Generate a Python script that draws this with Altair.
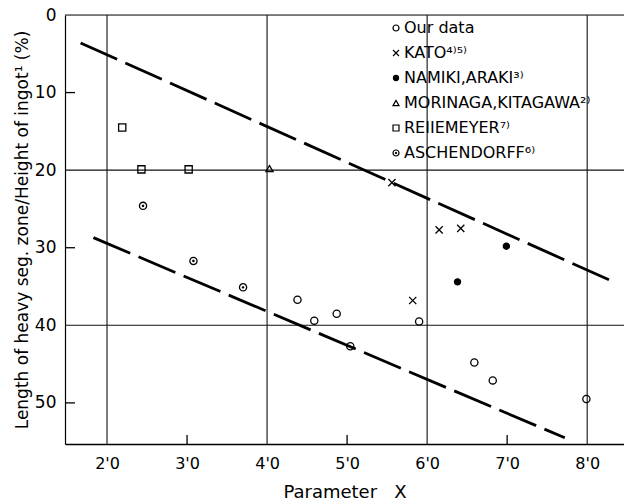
import altair as alt
import pandas as pd

# ---- data ----
sources = ["Our data", "KATO⁴⁾⁵⁾", "NAMIKI,ARAKI³⁾", "MORINAGA,KITAGAWA²⁾",
           "REIIEMEYER⁷⁾", "ASCHENDORFF⁶⁾"]

our_x = [4.38, 4.59, 4.87, 5.04, 5.90, 6.59, 6.82, 7.99]
our_y = [36.7, 39.4, 38.5, 42.7, 39.5, 44.8, 47.1, 49.5]
kato_x = [5.56, 6.15, 6.42, 5.82]
kato_y = [21.6, 27.7, 27.5, 36.8]
namiki_x = [6.99, 6.38]
namiki_y = [29.8, 34.4]
morinaga_x = [4.03]
morinaga_y = [19.8]
reii_x = [2.19, 2.43, 3.02]
reii_y = [14.5, 19.9, 19.9]
asch_x = [2.45, 3.08, 3.70]
asch_y = [24.6, 31.7, 35.1]

upper_x = [1.67, 8.33]
upper_y = [3.6, 34.4]
lower_x = [1.83, 7.72]
lower_y = [28.7, 54.5]

x_ticks = [2, 3, 4, 5, 6, 7, 8]
y_ticks = [0, 10, 20, 30, 40, 50]
x_grid = [2, 4, 6, 8]
y_grid = [0, 20, 40]
x_minor = [3, 5, 7]
y_minor = [10, 30, 50]

x_domain = [1.475, 8.46]
y_domain = [0, 55.3]

# ---- tables ----
rows = []
for name, xs_, ys_ in zip(sources,
                          [our_x, kato_x, namiki_x, morinaga_x, reii_x, asch_x],
                          [our_y, kato_y, namiki_y, morinaga_y, reii_y, asch_y]):
    for a, b in zip(xs_, ys_):
        rows.append({"x": a, "y": b, "src": name})
pts = pd.DataFrame(rows)

lines = pd.DataFrame(
    [{"x": a, "y": b, "line": "upper"} for a, b in zip(upper_x, upper_y)] +
    [{"x": a, "y": b, "line": "lower"} for a, b in zip(lower_x, lower_y)]
)

FONT = "DejaVu Sans"
W, H = 559, 429

xs = alt.Scale(domain=x_domain, nice=False, zero=False)
ys = alt.Scale(domain=y_domain, nice=False, zero=False, reverse=True)

shape_range = [
    "circle",
    "M-1,-1L1,1M-1,1L1,-1",
    "M0.85,0A0.85,0.85,0,1,1,-0.85,0A0.85,0.85,0,1,1,0.85,0Z",
    "triangle-up",
    "square",
    "M1,0A1,1,0,1,1,-1,0A1,1,0,1,1,1,0Z M0.18,0A0.18,0.18,0,1,1,-0.18,0A0.18,0.18,0,1,1,0.18,0Z",
]
fill_range = ["transparent", "transparent", "black", "transparent",
              "transparent", "transparent"]
stroke_range = ["black"] * 6

legend = alt.Legend(
    title=None, orient="none", legendX=323, legendY=5,
    labelFont=FONT, labelFontSize=16, labelColor="black", labelLimit=320,
    symbolSize=36, symbolStrokeWidth=1.2,
    rowPadding=9, labelOffset=0,
)

points = alt.Chart(pts).mark_point(strokeWidth=1.3, size=52,
                                   opacity=1).encode(
    x=alt.X("x:Q", scale=xs, axis=alt.Axis(
        values=x_ticks, grid=False, ticks=False, domain=True,
        domainColor="black", domainWidth=1.6,
        labelExpr="replace(format(datum.value, '.1f'), '.', \"'\")",
        labelFont=FONT, labelFontSize=16, labelColor="black", labelPadding=11,
        title="Parameter\u00a0\u00a0\u00a0X", titleFont=FONT, titleFontSize=18,
        titleFontWeight="normal", titleColor="black", titlePadding=12)),
    y=alt.Y("y:Q", scale=ys, axis=alt.Axis(
        values=y_ticks, grid=False, ticks=False, domain=True,
        domainColor="black", domainWidth=1.2,
        labelFont=FONT, labelFontSize=17, labelColor="black", labelPadding=9,
        title="Length of heavy seg. zone/Height of ingot¹ (%)",
        titleFont=FONT, titleFontSize=17, titleFontWeight="normal",
        titleColor="black", titlePadding=3)),
    shape=alt.Shape("src:N", scale=alt.Scale(domain=sources, range=shape_range),
                    legend=legend),
    fill=alt.Fill("src:N", scale=alt.Scale(domain=sources, range=fill_range),
                  legend=legend),
    stroke=alt.Stroke("src:N", scale=alt.Scale(domain=sources, range=stroke_range),
                      legend=legend),
)

trend = alt.Chart(lines).mark_line(color="black", strokeWidth=2.8,
                                   strokeDash=[40, 9]).encode(
    x=alt.X("x:Q", scale=xs), y=alt.Y("y:Q", scale=ys), detail="line:N")

vgrid = alt.Chart(pd.DataFrame({"x": x_grid})).mark_rule(
    color="#111", strokeWidth=1.1).encode(
    x=alt.X("x:Q", scale=xs), y=alt.value(0), y2=alt.value(H))

hgrid = alt.Chart(pd.DataFrame({"y": y_grid})).mark_rule(
    color="#111", strokeWidth=1.1).encode(
    y=alt.Y("y:Q", scale=ys), x=alt.value(0), x2=alt.value(W))

xminor = alt.Chart(pd.DataFrame({"x": x_minor})).mark_rule(
    color="black", strokeWidth=1.3).encode(
    x=alt.X("x:Q", scale=xs), y=alt.value(H - 9), y2=alt.value(H))

yminor = alt.Chart(pd.DataFrame({"y": y_minor})).mark_rule(
    color="black", strokeWidth=1.3).encode(
    y=alt.Y("y:Q", scale=ys), x=alt.value(0), x2=alt.value(10))

chart = alt.layer(vgrid, hgrid, xminor, yminor, trend, points).properties(
    width=W, height=H,
    padding={"left": 65, "top": 15, "right": 0, "bottom": 59},
    autosize=alt.AutoSizeParams(type="none"),
).configure_view(stroke=None).configure(background="white")

chart.save("out.html", embed_options={"renderer": "svg", "actions": False})
